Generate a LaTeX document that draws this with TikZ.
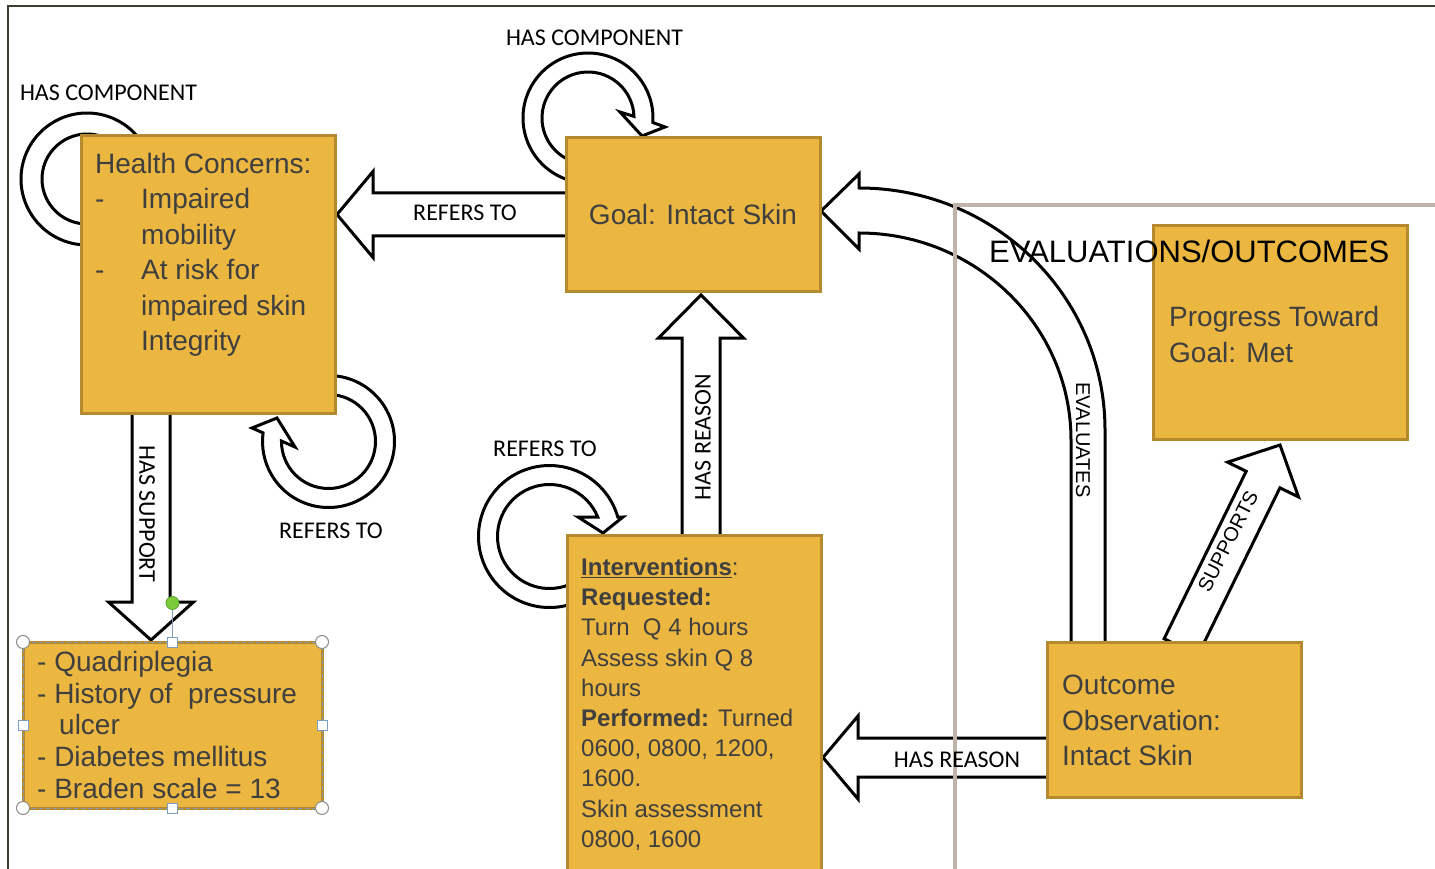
\documentclass[tikz,border=0pt]{standalone}
\usepackage{fontspec}
\setmainfont{Liberation Sans}
\newfontfamily\lblfont{Carlito}
\usetikzlibrary{calc}
\pgfdeclarelayer{back}
\pgfdeclarelayer{bg}
\pgfsetlayers{back,bg,main}
\definecolor{boxfill}{HTML}{EBB740}
\definecolor{boxline}{HTML}{B58A2F}
\definecolor{boxtext}{HTML}{3F3F3F}
\definecolor{framecol}{HTML}{403B33}
\definecolor{evalframe}{HTML}{BDB5AA}
\definecolor{selblue}{HTML}{7F9DBF}
\definecolor{selgray}{HTML}{8C8C8C}
\definecolor{handlegreen}{HTML}{7CCB3B}
\definecolor{handlegreenline}{HTML}{5AA02C}
\newcommand\blkarrow[5]{%
  \coordinate (ba-h) at ($(#2)!#5!(#1)$);
  \draw[blockarrow] ($(#1)!#3!90:(#2)$) -- ($(ba-h)!#3!90:(#2)$) -- ($(ba-h)!#4!90:(#2)$) -- (#2)
    -- ($(ba-h)!#4!-90:(#2)$) -- ($(ba-h)!#3!-90:(#2)$) -- ($(#1)!#3!-90:(#2)$) -- cycle;}
\begin{document}
\begin{tikzpicture}[x=1pt,y=-1pt,
  box/.style={draw=boxline, fill=boxfill, line width=3pt, inner sep=0pt, outer sep=0pt},
  boxtxt/.style={anchor=north west, inner sep=0pt, align=left, text=boxtext, font={\fontsize{28}{35.5}\selectfont}},
  lbl/.style={inner sep=0pt, text=black, font={\lblfont\fontsize{24}{28}\selectfont}},
  albl/.style={inner sep=0pt, text=black, font={\fontsize{20}{24}\selectfont}},
  blockarrow/.style={draw=black, fill=white, line width=3pt, line join=miter, miter limit=10},
  ringarrow/.style={draw=black, fill=white, line width=3pt, line join=miter, miter limit=10},
]
\useasboundingbox (0,0) rectangle (1435,869);
\begin{pgfonlayer}{back}
\fill[white] (0,0) rectangle (1435,869);
\end{pgfonlayer}

% boxes
\node[box, minimum width=254pt, minimum height=277pt] (hc) at (208,274.5) {};
\node[box, minimum width=254pt, minimum height=153pt, text=boxtext, font={\fontsize{28}{34}\selectfont}] (goal) at (693,214.5) {Goal: Intact Skin};
\node[box, minimum width=299pt, minimum height=166pt] (blc) at (172.5,725) {};
\node[box, minimum width=254pt, minimum height=345pt] (iv) at (694,707.5) {};
\node[box, minimum width=254pt, minimum height=213pt] (pg) at (1280,332.5) {};
\node[box, minimum width=254pt, minimum height=155pt] (oc) at (1174,719.5) {};

% box texts
\node[boxtxt] (hc-t) at (95,153) {Health Concerns:\\ \makebox[46pt][l]{-}Impaired\\ \hspace*{46pt}mobility\\ \makebox[46pt][l]{-}At risk for\\ \hspace*{46pt}impaired skin\\ \hspace*{46pt}Integrity};
\node[boxtxt, font={\fontsize{24}{30.2}\selectfont}] (iv-t) at (581,558) {\underline{\textbf{Interventions}}:\\ \textbf{Requested:}\\ Turn\ \ Q 4 hours\\ Assess skin Q 8\\ hours\\ \textbf{Performed:} Turned\\ 0600, 0800, 1200,\\ 1600.\\ Skin assessment\\ 0800, 1600};
\node[boxtxt, font={\fontsize{28}{31.7}\selectfont}] (blc-t) at (37,651) {- Quadriplegia\\ - History of\ \ pressure\\ \hspace*{22pt}ulcer\\ - Diabetes mellitus\\ - Braden scale = 13};
\node[boxtxt] (oc-t) at (1062,675) {Outcome\\ Observation:\\ Intact Skin};
\node[boxtxt, font={\fontsize{28}{36}\selectfont}] (pg-t) at (1169,306) {Progress Toward\\ Goal: Met};

\begin{pgfonlayer}{bg}
% self loops
\coordinate (c-hc1) at (87,179);
\draw[ringarrow] ($(c-hc1)+(60:66)$) arc[start angle=60, end angle=330, radius=66]
  -- ($(c-hc1)+(330:79)$) -- ($(c-hc1)+(350:56)$) -- ($(c-hc1)+(330:32)$)
  -- ($(c-hc1)+(330:45)$) arc[start angle=330, end angle=60, radius=45] -- cycle;
\coordinate (c-g) at (588,118);
\draw[ringarrow] ($(c-g)+(80:65)$) arc[start angle=80, end angle=364, radius=65]
  -- (665,127) -- (642,136) -- (620,112)
  -- ($(c-g)+(358:46)$) arc[start angle=358, end angle=80, radius=46] -- cycle;
\coordinate (c-r1) at (328.5,441.5);
\draw[ringarrow] ($(c-r1)+(-120:66)$) arc[start angle=-120, end angle=187.5, radius=66]
  -- (252,428) -- (277,418) -- (295,447)
  -- ($(c-r1)+(180.5:47)$) arc[start angle=180.5, end angle=-120, radius=47] -- cycle;
\coordinate (c-r2) at (549.5,536.5);
\draw[ringarrow] ($(c-r2)+(60:71)$) arc[start angle=60, end angle=344.1, radius=71]
  -- (623,517) -- (603,533) -- (578,517)
  -- ($(c-r2)+(338:52)$) arc[start angle=338, end angle=60, radius=52] -- cycle;

% straight block arrows
\coordinate (rt-s) at ($(goal.west)+(5,0)$);
\coordinate (rt-t) at ($(hc.east |- goal.west)+(2,0)$);
\blkarrow{rt-s}{rt-t}{21.5pt}{43pt}{36pt}
\coordinate (hs-s) at ($(hc.south)+(-57,-5)$);
\coordinate (hs-t) at ($(blc.north)+(-21.5,-2)$);
\blkarrow{hs-s}{hs-t}{19pt}{42.5pt}{38pt}
\coordinate (hr-s) at ($(iv.north)+(7,5)$);
\coordinate (hr-t) at ($(goal.south)+(8,4)$);
\blkarrow{hr-s}{hr-t}{19pt}{42.5pt}{43pt}
\coordinate (hr2-s) at ($(oc.west)+(5,38)$);
\coordinate (hr2-t) at ($(iv.east |- hr2-s)+(2,0)$);
\blkarrow{hr2-s}{hr2-t}{19.5pt}{41.5pt}{35pt}
\coordinate (sp-s) at ($(oc.north)+(7,5)$);
\coordinate (sp-t) at ($(pg.south)+(0,6)$);
\blkarrow{sp-s}{sp-t}{18.8pt}{39.5pt}{38.5pt}

% curved EVALUATES arrow
\coordinate (ev-a) at ($(oc.north)+(-103,8)$);
\coordinate (ev-b) at ($(oc.north)+(-69,8)$);
\coordinate (ev-t) at ($(goal.east)+(1,-3.5)$);
\draw[blockarrow] (ev-a) -- (1071,440) .. controls (1071,326) and (976,233) .. ($(ev-t)+(38,22)$)
  -- ($(ev-t)+(38,38)$) -- (ev-t) -- ($(ev-t)+(38,-37)$) -- ($(ev-t)+(38,-23)$)
  .. controls (995,188) and (1105,296) .. (1105,430) -- (ev-b) -- cycle;
\end{pgfonlayer}

% frames
\draw[framecol, line width=2.5pt] (8,875) -- (8,6) -- (1440,6);
\draw[evalframe, line width=3.5pt] (955,875) -- (955,205) -- (1440,205);

% title and labels
\node[anchor=base west, inner sep=0pt, text=black, font={\fontsize{31}{36}\selectfont}] (ev-title) at (989,262) {EVALUATIONS/OUTCOMES};
\node[lbl] (l-hc1) at (108.5,93) {HAS COMPONENT};
\node[lbl] (l-hc2) at (594.5,38) {HAS COMPONENT};
\node[lbl] (l-rt1) at (465,213) {REFERS TO};
\node[lbl] (l-rt2) at (331,531) {REFERS TO};
\node[lbl] (l-rt3) at (545,449) {REFERS TO};
\node[lbl, rotate=-90] (l-hs) at (147,514) {HAS SUPPORT};
\node[lbl, rotate=90] (l-hr1) at (703,437) {HAS REASON};
\node[lbl] (l-hr2) at (957,760) {HAS REASON};
\node[albl, rotate=-90] (l-ev) at (1083,440) {EVALUATES};
\node[albl, rotate=63.2] (l-sp) at (1228,541) {SUPPORTS};

% selection handles
\draw[selblue, line width=1pt, dash pattern=on 4pt off 3pt] (blc.north west) rectangle (blc.south east);
\coordinate (hndl) at ($(blc.north)+(0,-39)$);
\draw[selblue, line width=1pt] (hndl) -- ($(blc.north)+(0,-5)$);
\filldraw[fill=handlegreen, draw=handlegreenline, line width=0.8pt] (hndl) circle[radius=6.5];
\foreach \a in {north west, north east, south west, south east}
  \filldraw[fill=white, draw=selgray, line width=1pt] (blc.\a) circle[radius=6.5];
\foreach \a in {north, south, west, east}
  \filldraw[fill=white, draw=selblue, line width=1pt] ($(blc.\a)+(-5,-5)$) rectangle +(10,10);
\end{tikzpicture}
\end{document}
